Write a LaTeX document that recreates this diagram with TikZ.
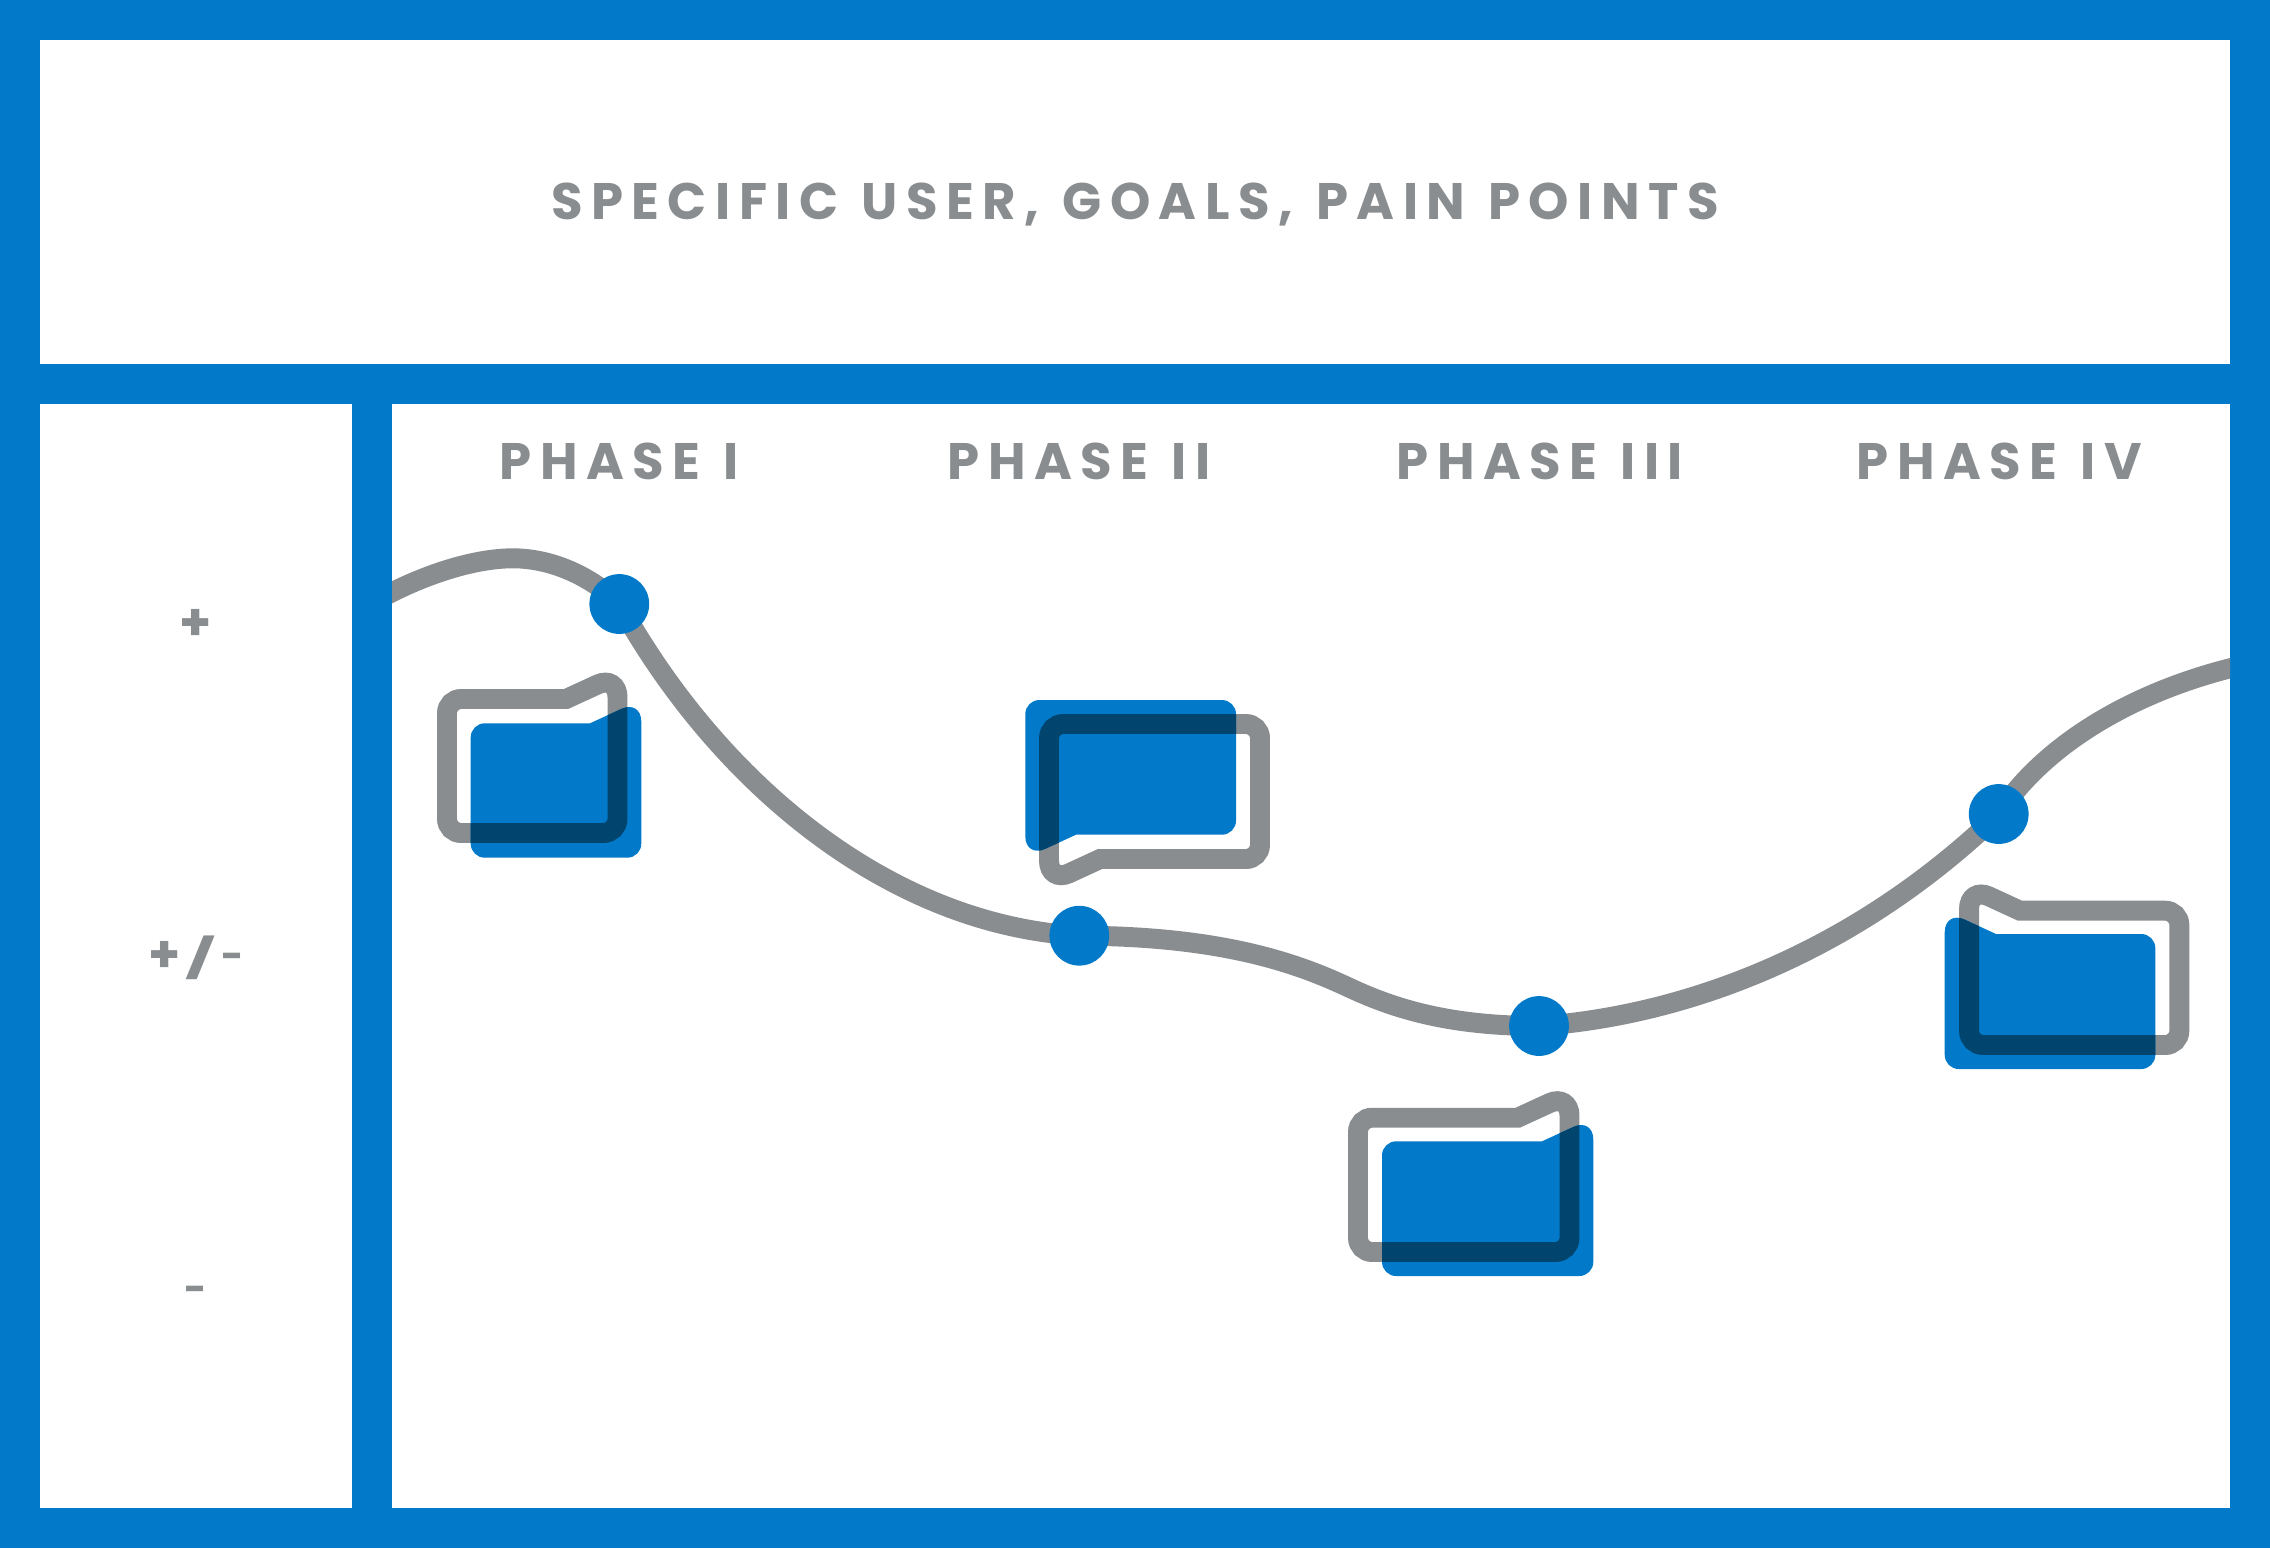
\documentclass[tikz,border=0pt]{standalone}
\usepackage{graphicx}
\usepackage{fontspec}
\newfontfamily\titlefont[LetterSpace=16.5,WordSpace=1.2]{Poppins Bold}
\newfontfamily\markfont{Poppins Bold}
\definecolor{frameblue}{HTML}{027AC9}
\definecolor{linegray}{HTML}{8A8D8F}
\definecolor{overlapdark}{HTML}{01456F}
\pgfdeclarelayer{behind}
\pgfsetlayers{behind,main}
\tikzset{
  dotnode/.style={circle,fill=frameblue,minimum size=17.0pt,inner sep=0pt,outer sep=0pt},
  curveline/.style={draw=linegray,line width=5.67pt},
  bubbleoutline/.style={draw=linegray,line width=5.67pt},
  bubbleoverlap/.style={draw=overlapdark,line width=5.67pt},
  bubblefill/.style={fill=frameblue},
  headtext/.style={font=\titlefont\fontsize{14.6}{16}\selectfont,text=linegray,inner sep=0pt,anchor=base},
  marktext/.style={font=\markfont\fontsize{14.6}{16}\selectfont,text=linegray,inner sep=0pt,anchor=base},
  minustext/.style={font=\markfont\fontsize{11}{12}\selectfont,text=linegray,inner sep=0pt,anchor=base},
}
\newcommand{\drawbubble}[2]{%
  \draw[bubbleoutline] #1;
  \fill[bubblefill] #2;
  \begin{scope}\clip #2; \draw[bubbleoverlap] #1;\end{scope}
}
\begin{document}
\begin{tikzpicture}[x=0.01cm,y=-0.01cm]
\useasboundingbox (0,0) rectangle (2270,1548);
% dots
\node[dotnode] (dot1) at (619.3,604) {};
\node[dotnode] (dot2) at (1079.3,935.7) {};
\node[dotnode] (dot3) at (1539,1026) {};
\node[dotnode] (dot4) at (1998.7,814) {};
\coordinate (curvestart) at (380,598.5);
\coordinate (curvepeak) at (513,558.3);
\coordinate (curvemid) at (1350,988);
\coordinate (curveend) at (2240,665.8);
\begin{pgfonlayer}{behind}
  \fill[frameblue] (0,0) rectangle (2270,1548);
  \fill[white] (40,40) rectangle (2230,364);
  \fill[white] (40,404) rectangle (352,1508);
  \fill[white] (392,404) rectangle (2230,1508);
  \begin{scope}
    \clip (392,404) rectangle (2230,1508);
    \draw[curveline] (curvestart) .. controls (425,574) and (475,558.3) .. (curvepeak)
      .. controls (550,558.3) and (590,575) .. (dot1.center)
      .. controls (719,784) and (890,925) .. (dot2.center)
      .. controls (1230,936) and (1305,967) .. (curvemid)
      .. controls (1395,1009) and (1450,1026) .. (dot3.center)
      .. controls (1680,1016) and (1850,957) .. (dot4.center)
      .. controls (2040,750) and (2125,693) .. (curveend);
  \end{scope}
\end{pgfonlayer}
% bubbles
\drawbubble{(500,699) -- (566,699) [rounded corners=6.2pt] -- (617.5,675.3) [rounded corners=4pt] -- (617.5,833) -- (447,833) -- (447,699) -- cycle}
           {(520,723.3) -- (590,723.3) [rounded corners=6.2pt] -- (641.3,699.7) [rounded corners=4pt] -- (641.3,857.7) -- (470.7,857.7) -- (470.7,723.3) -- cycle}
\drawbubble{(1150,724) [rounded corners=4pt] -- (1260,724) -- (1260,859) [sharp corners] -- (1100,859) [rounded corners=6.2pt] -- (1049,882.5) [rounded corners=4pt] -- (1049,724) -- cycle}
           {(1130,700) [rounded corners=4pt] -- (1236,700) -- (1236,834.7) [sharp corners] -- (1076,834.7) [rounded corners=6.2pt] -- (1025.3,858) [rounded corners=4pt] -- (1025.3,700) -- cycle}
\drawbubble{(1450,1117.7) -- (1517.7,1117.7) [rounded corners=6.2pt] -- (1569.5,1093.9) [rounded corners=4pt] -- (1569.5,1252) -- (1358,1252) -- (1358,1117.7) -- cycle}
           {(1470,1141.3) -- (1542,1141.3) [rounded corners=6.2pt] -- (1593.3,1117.7) [rounded corners=4pt] -- (1593.3,1276) -- (1382,1276) -- (1382,1141.3) -- cycle}
\drawbubble{(2100,910.7) [rounded corners=4pt] -- (2179.3,910.7) -- (2179.3,1045) -- (1969,1045) [rounded corners=6.2pt] -- (1969,887.2) [sharp corners] -- (2020,910.7) -- cycle}
           {(2080,934) [rounded corners=4pt] -- (2155.3,934) -- (2155.3,1069) -- (1944.7,1069) [rounded corners=6.2pt] -- (1944.7,910.4) [sharp corners] -- (1996,934) -- cycle}
% texts
\node[headtext] (title) at (1135,219) {SPECIFIC USER, GOALS, PAIN POINTS};
\node[headtext] (phase1) at (619.5,479.5) {PHASE I};
\node[headtext] (phase2) at (1079,479.5) {PHASE II};
\node[headtext] (phase3) at (1540,479.5) {PHASE III};
\node[headtext] (phase4) at (1999,479.5) {PHASE IV};
\node[marktext] (plus) at (196,640) {+};
\node[marktext] (plusminus) at (196,972) {+\kern1.5pt\scalebox{1.3}[0.75]{/}\kern1.5pt{\fontsize{11}{12}\selectfont\raisebox{0.8pt}{-}}};
\node[minustext] (minus) at (196,1302) {-};
\end{tikzpicture}
\end{document}
